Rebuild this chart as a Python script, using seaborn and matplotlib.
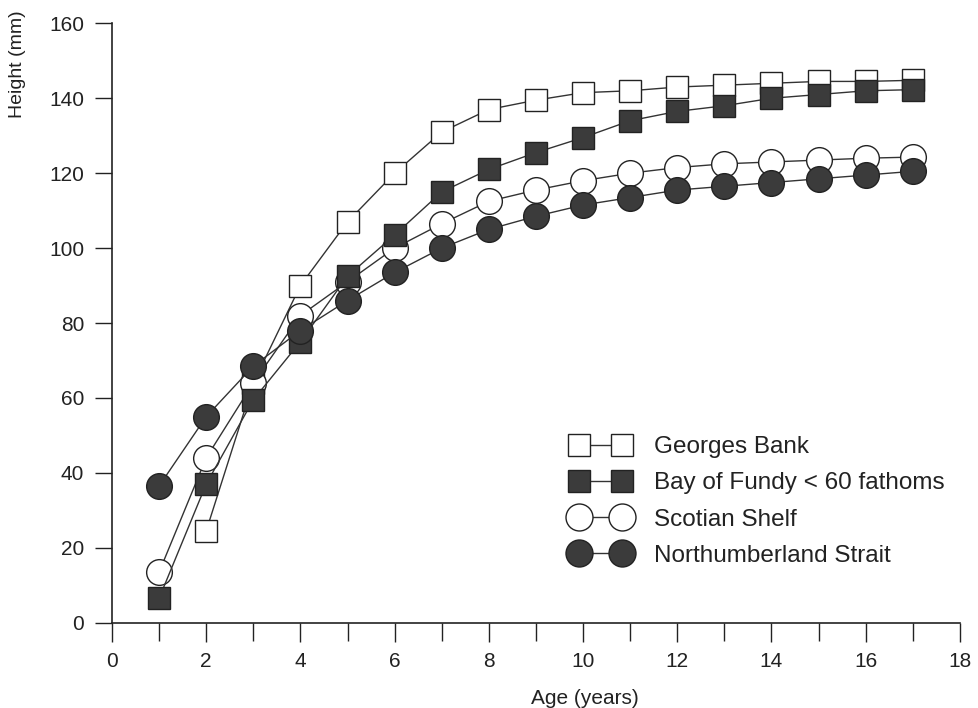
import numpy as np
import pandas as pd
import matplotlib
matplotlib.use("Agg")
import matplotlib.pyplot as plt
import seaborn as sns

ages = list(range(1, 18))

georges_bank = [np.nan, 24.5, 64, 90, 107, 120, 131, 137, 139.5, 141.5, 142,
                143, 143.5, 144, 144.5, 144.5, 144.8]
bay_of_fundy = [6.5, 37, 59.5, 75, 92.5, 103.5, 115, 121, 125.5, 129.5, 134,
                136.5, 138, 140, 141, 142, 142.3]
scotian_shelf = [13.5, 44, 64, 82, 91, 100, 106.5, 112.5, 115.5, 118, 120,
                 121.5, 122.5, 123, 123.5, 124, 124.3]
northumberland = [36.5, 55, 68.5, 78, 86, 93.5, 100, 105, 108.5, 111.5, 113.5,
                  115.5, 116.5, 117.5, 118.5, 119.5, 120.5]

series_names = ["Georges Bank", "Bay of Fundy < 60 fathoms",
                "Scotian Shelf", "Northumberland Strait"]

frames = []
for name, vals in zip(series_names, [georges_bank, bay_of_fundy, scotian_shelf, northumberland]):
    frames.append(pd.DataFrame({"age": ages, "height": vals, "site": name}))
df = pd.concat(frames).dropna()

sns.set_theme(style="ticks")
plt.rcParams['font.family'] = ['Liberation Sans', 'DejaVu Sans']

fig = plt.figure(figsize=(9.79, 7.08), dpi=100)
ax = fig.add_axes([0.1144, 0.1205, 0.866, 0.8465])

dark = "#3b3b3b"
styles = {
    "Georges Bank": dict(marker="s", mfc="white", ms=15.5, z=3),
    "Scotian Shelf": dict(marker="o", mfc="white", ms=18.5, z=4),
    "Bay of Fundy < 60 fathoms": dict(marker="s", mfc=dark, ms=15.5, z=5),
    "Northumberland Strait": dict(marker="o", mfc=dark, ms=18.5, z=6),
}

# draw order matters: filled markers sit on top of the open ones
for name in ["Georges Bank", "Scotian Shelf", "Bay of Fundy < 60 fathoms", "Northumberland Strait"]:
    st = styles[name]
    sub = df[df.site == name]
    sns.lineplot(data=sub, x="age", y="height", ax=ax, color="#333333", lw=1.0,
                 marker=st["marker"], markersize=st["ms"], markerfacecolor=st["mfc"],
                 markeredgecolor="#222222", markeredgewidth=1.0, zorder=st["z"],
                 label=name)

h, l = ax.get_legend_handles_labels()
lookup = dict(zip(l, h))
leg = ax.legend([lookup[n] for n in series_names], series_names,
                loc="upper left", bbox_to_anchor=(0.5425, 0.311), frameon=False,
                fontsize=17.5, handlelength=2.37, handletextpad=1.0, labelspacing=0.58,
                numpoints=2, borderpad=0, borderaxespad=0, markerscale=1.05)
for t in leg.get_texts():
    t.set_color("#222222")

ax.set_xlim(0, 18)
ax.set_ylim(0, 160)
ax.set_xticks(range(0, 19, 2))
ax.set_xticks(range(0, 19, 1), minor=True)
ax.set_yticks(range(0, 161, 20))
ax.tick_params(axis="both", which="both", direction="out", color="#222222",
               width=1.0, labelsize=15, labelcolor="#222222")
ax.tick_params(axis="x", which="major", length=14, pad=7)
ax.tick_params(axis="x", which="minor", length=13)
ax.tick_params(axis="y", which="major", length=12, pad=8)

for side in ["top", "right"]:
    ax.spines[side].set_visible(False)
for side in ["left", "bottom"]:
    ax.spines[side].set_color("#222222")
    ax.spines[side].set_linewidth(1.2)

ax.set_xlabel("Age (years)", fontsize=15, color="#222222")
ax.set_ylabel("Height (mm)", fontsize=14, color="#222222", loc="top")
ax.yaxis.set_label_coords(-0.101, 1.022)
ax.xaxis.set_label_coords(0.558, -0.11)

fig.savefig("out.png", dpi=100)
